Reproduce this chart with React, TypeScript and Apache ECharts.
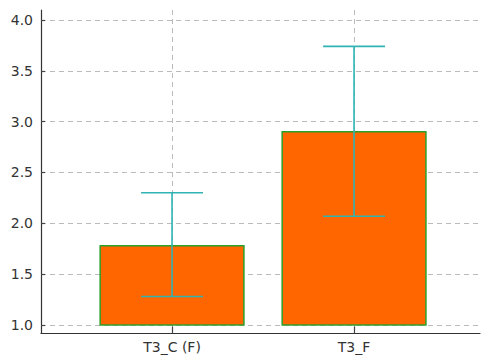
import React, { useEffect, useRef } from "react";
import * as echarts from "echarts";

const categories = ["T3_C (F)", "T3_F"];
const means = [1.78, 2.9];
const errLow = [1.28, 2.07];
const errHigh = [2.3, 3.74];
const barBase = 1.0;
const yTicks = [1.0, 1.5, 2.0, 2.5, 3.0, 3.5, 4.0];
const xTicks = [0, 1];

export default function App() {
  const ref = useRef<HTMLDivElement>(null);
  useEffect(() => {
    if (!ref.current) return;
    const chart = echarts.init(ref.current, null, { renderer: "svg" });
    const font = "'DejaVu Sans', Verdana, sans-serif";
    const option: any = {
      animation: false,
      backgroundColor: "#ffffff",
      grid: { left: 41, right: 1, top: 10, bottom: 24.5, containLabel: false },
      xAxis: {
        type: "value",
        min: -0.72,
        max: 1.692,
        axisLine: { show: true, onZero: false, lineStyle: { color: "#333", width: 1.2 } },
        axisTick: {
          show: true,
          inside: true,
          length: 7,
          customValues: xTicks,
          lineStyle: { color: "#444", width: 1.2 },
        },
        axisLabel: {
          show: true,
          customValues: xTicks,
          formatter: (v: number) => categories[Math.round(v)] ?? "",
          color: "#333",
          fontSize: 14,
          fontFamily: font,
          margin: 6,
        },
        splitLine: {
          show: true,
          lineStyle: { color: "#bbbbbb", type: [5, 4], width: 1 },
        },
      },
      yAxis: {
        type: "value",
        min: 0.916,
        max: 4.098,
        axisLine: { show: true, onZero: false, lineStyle: { color: "#333", width: 1.2 } },
        axisTick: {
          show: true,
          inside: true,
          length: 4,
          customValues: yTicks,
          lineStyle: { color: "#444", width: 1.2 },
        },
        axisLabel: {
          show: true,
          customValues: yTicks,
          formatter: (v: number) => v.toFixed(1),
          color: "#333",
          fontSize: 14,
          fontFamily: font,
          margin: 8,
        },
        splitLine: {
          show: true,
          lineStyle: { color: "#bbbbbb", type: [5, 4], width: 1 },
        },
      },
      series: [
        {
          type: "custom",
          name: "bars",
          data: means.map((m, i) => [i, m]),
          renderItem: (params: any, api: any) => {
            const x = api.value(0);
            const y = api.value(1);
            const p0 = api.coord([x - 0.395, barBase]);
            const p1 = api.coord([x + 0.395, y]);
            return {
              type: "rect",
              shape: {
                x: p0[0],
                y: p1[1],
                width: p1[0] - p0[0],
                height: p0[1] - p1[1],
              },
              style: { fill: "#ff6600", stroke: "#2ca02c", lineWidth: 1.5 },
            };
          },
        },
        {
          type: "custom",
          name: "errors",
          data: errLow.map((lo, i) => [i, lo, errHigh[i]]),
          renderItem: (params: any, api: any) => {
            const x = api.value(0);
            const lo = api.value(1);
            const hi = api.value(2);
            const pLo = api.coord([x, lo]);
            const pHi = api.coord([x, hi]);
            const capL = api.coord([x - 0.17, lo]);
            const capR = api.coord([x + 0.17, lo]);
            const style = { stroke: "#2fb3b3", lineWidth: 1.6 };
            return {
              type: "group",
              children: [
                { type: "line", shape: { x1: pLo[0], y1: pLo[1], x2: pHi[0], y2: pHi[1] }, style },
                { type: "line", shape: { x1: capL[0], y1: pHi[1], x2: capR[0], y2: pHi[1] }, style },
                { type: "line", shape: { x1: capL[0], y1: pLo[1], x2: capR[0], y2: pLo[1] }, style },
              ],
            };
          },
        },
      ],
    };
    chart.setOption(option);
    return () => chart.dispose();
  }, []);
  return (
    <div
      ref={ref}
      style={{ position: "fixed", left: 0, top: 0, width: 481, height: 358 }}
    />
  );
}
